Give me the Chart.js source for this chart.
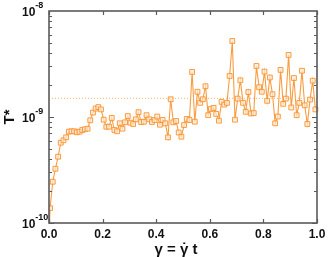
<!DOCTYPE html>
<html lang="en">
<head>
  <meta charset="UTF-8" />
  <title>T* vs strain</title>
  <script src="https://cdn.jsdelivr.net/npm/chart.js"></script>
  <style>
    html, body { margin: 0; padding: 0; background: #fff; }
    #wrap { width: 332px; height: 257px; }
  </style>
</head>
<body>
  <div id="wrap"><canvas id="chart" width="332" height="257"></canvas></div>

  <script>
    // strain gamma (x) and T* (y)
    const strain = [0,
      0.004, 0.014, 0.024, 0.034, 0.044, 0.054, 0.064, 0.074, 0.084, 0.094,
      0.104, 0.114, 0.124, 0.134, 0.144, 0.154, 0.164, 0.174, 0.184, 0.194,
      0.204, 0.214, 0.224, 0.234, 0.244, 0.254, 0.264, 0.274, 0.284, 0.294,
      0.304, 0.314, 0.324, 0.334, 0.344, 0.354, 0.364, 0.374, 0.384, 0.394,
      0.404, 0.414, 0.424, 0.434, 0.444, 0.454, 0.464, 0.474, 0.484, 0.494,
      0.504, 0.514, 0.524, 0.534, 0.544, 0.554, 0.564, 0.574, 0.584, 0.594,
      0.604, 0.614, 0.624, 0.634, 0.644, 0.654, 0.664, 0.674, 0.684, 0.694,
      0.704, 0.714, 0.724, 0.734, 0.744, 0.754, 0.764, 0.774, 0.784, 0.794,
      0.804, 0.814, 0.824, 0.834, 0.844, 0.854, 0.864, 0.874, 0.884, 0.894,
      0.904, 0.914, 0.924, 0.934, 0.944, 0.954, 0.964, 0.974, 0.984, 0.994];
    const tStar = [7e-11,
      1.38e-10, 2.45e-10, 3.25e-10, 4.22e-10, 5.72e-10, 6.03e-10, 6.43e-10, 7.27e-10, 7.33e-10, 7.33e-10,
      7.17e-10, 7.27e-10, 7.54e-10, 7.66e-10, 7.76e-10, 9.31e-10, 1.10e-9, 1.20e-9, 1.24e-9, 1.18e-9,
      9.43e-10, 8.10e-10, 8.10e-10, 9.79e-10, 7.54e-10, 7.33e-10, 8.72e-10, 7.76e-10, 8.91e-10, 1.02e-9,
      8.84e-10, 8.59e-10, 9.51e-10, 1.11e-9, 8.97e-10, 9.03e-10, 1.04e-9, 9.51e-10, 8.97e-10, 9.37e-10,
      1.01e-9, 8.46e-10, 9.37e-10, 8.72e-10, 6.43e-10, 1.47e-9, 8.91e-10, 9.17e-10, 7.14e-10, 6.52e-10,
      8.40e-10, 9.58e-10, 9.37e-10, 2.66e-9, 9.03e-10, 1.73e-9, 1.36e-9, 1.47e-9, 1.95e-9, 1.04e-9,
      1.19e-9, 1.22e-9, 1.07e-9, 9.23e-10, 1.39e-9, 1.31e-9, 1.36e-9, 2.44e-9, 5.21e-9, 9.43e-10,
      1.49e-9, 2.22e-9, 1.36e-9, 1.12e-9, 1.72e-9, 1.08e-9, 1.09e-9, 3.03e-9, 1.91e-9, 1.73e-9,
      2.68e-9, 1.42e-9, 2.36e-9, 1.64e-9, 8.72e-10, 1.01e-9, 2.78e-9, 1.33e-9, 1.49e-9, 3.85e-9,
      1.23e-9, 2.33e-9, 1.04e-9, 1.36e-9, 2.73e-9, 1.29e-9, 8.59e-10, 1.46e-9, 2.20e-9, 1.18e-9];
    const plateau = 1.5e-9;
    const xTicks = [0, 0.2, 0.4, 0.6, 0.8, 1.0];
    const yDecades = [-10, -9, -8];

    const orange = 'rgba(248,148,48,0.92)';
    const family = '"Liberation Sans", Arial, sans-serif';

    // frame, inward ticks, y labels with superscripts, axis titles
    const framePlugin = {
      id: 'frame',
      afterDraw(chart) {
        const { ctx, chartArea: a } = chart;
        const xs = chart.scales.x, ys = chart.scales.y;
        ctx.save();
        ctx.strokeStyle = '#5a5a5a';
        ctx.lineWidth = 1.2;
        ctx.beginPath();
        // y ticks, both sides
        for (let d = yDecades[0]; d < yDecades[yDecades.length - 1]; d++) {
          for (let k = 1; k <= 9; k++) {
            const py = Math.round(ys.getPixelForValue(k * Math.pow(10, d))) + 0.5;
            const len = k === 1 ? 5 : 3;
            ctx.moveTo(a.left, py); ctx.lineTo(a.left + len, py);
            ctx.moveTo(a.right, py); ctx.lineTo(a.right - len, py);
          }
        }
        xTicks.forEach(v => {
          const px = Math.round(xs.getPixelForValue(v)) + 0.5;
          ctx.moveTo(px, a.bottom); ctx.lineTo(px, a.bottom - 4);
          ctx.moveTo(px, a.top); ctx.lineTo(px, a.top + 4);
        });
        ctx.stroke();
        ctx.lineWidth = 1.6;
        ctx.strokeRect(a.left, a.top, a.right - a.left, a.bottom - a.top);

        // y tick labels 10^n
        ctx.fillStyle = '#111';
        ctx.textAlign = 'left';
        yDecades.forEach(d => {
          const py = ys.getPixelForValue(Math.pow(10, d));
          ctx.font = 'bold 12px ' + family;
          ctx.textBaseline = 'middle';
          ctx.fillText('10', 22, py + 2);
          const w = ctx.measureText('10').width;
          ctx.font = 'bold 9px ' + family;
          ctx.textBaseline = 'alphabetic';
          ctx.fillText(String(d), 22 + w, py - 3);
        });

        // x title: gamma = gamma-dot t (dot drawn over the second gamma)
        ctx.font = 'bold 15px ' + family;
        ctx.textBaseline = 'alphabetic';
        ctx.textAlign = 'left';
        const full = '\u03B3 = \u03B3 t';
        const x0 = 176 - ctx.measureText(full).width / 2;
        ctx.fillText(full, x0, 254);
        const pre = ctx.measureText('\u03B3 = ').width;
        const gw = ctx.measureText('\u03B3').width;
        ctx.textAlign = 'center';
        ctx.fillText('\u02D9', x0 + pre + gw / 2, 253);

        // y title
        ctx.save();
        ctx.translate(14, (a.top + a.bottom) / 2);
        ctx.rotate(-Math.PI / 2);
        ctx.fillText('T*', 0, 0);
        ctx.restore();
        ctx.restore();
      }
    };

    const points = strain.map((x, i) => ({ x, y: tStar[i] }));

    new Chart(document.getElementById('chart').getContext('2d'), {
      type: 'line',
      data: {
        datasets: [
          {
            label: 'plateau',
            data: [{ x: 0, y: plateau }, { x: 1, y: plateau }],
            borderColor: 'rgba(250,175,100,0.95)',
            borderWidth: 1,
            borderDash: [1, 2],
            pointRadius: 0,
            fill: false
          },
          {
            label: 'T*',
            data: points,
            borderColor: orange,
            borderWidth: 1.1,
            tension: 0,
            pointStyle: 'rect',
            pointRadius: 3.4,
            pointBorderWidth: 1,
            pointBorderColor: orange,
            pointBackgroundColor: 'rgba(255,235,215,0.7)',
            fill: false,
            clip: { left: 0, right: 4, top: 4, bottom: 0 }
          }
        ]
      },
      options: {
        responsive: false,
        animation: false,
        devicePixelRatio: 1,
        layout: { padding: { left: 0, top: 11, right: 15, bottom: 0 } },
        plugins: {
          legend: { display: false },
          tooltip: { enabled: false }
        },
        scales: {
          x: {
            type: 'linear',
            min: 0,
            max: 1,
            grid: { display: false, drawTicks: false },
            border: { display: false },
            ticks: {
              stepSize: 0.2,
              padding: 4,
              color: '#111',
              font: { family: family, size: 12, weight: 'bold' },
              maxRotation: 0,
              callback: v => v.toFixed(1)
            },
            afterFit: s => { s.height = 34; }
          },
          y: {
            type: 'logarithmic',
            min: 1e-10,
            max: 1e-8,
            grid: { display: false, drawTicks: false },
            border: { display: false },
            ticks: { display: false },
            afterFit: s => { s.width = 49; }
          }
        }
      },
      plugins: [framePlugin]
    });
  </script>
</body>
</html>
